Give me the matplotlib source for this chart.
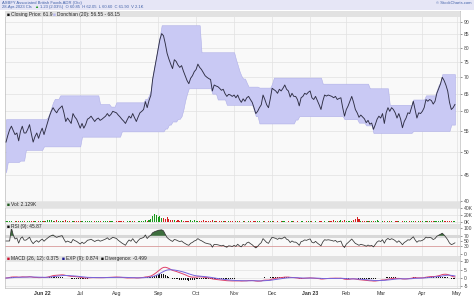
import numpy as np
import pandas as pd
import matplotlib
matplotlib.use("Agg")
import matplotlib.pyplot as plt
from matplotlib.patches import Rectangle

plt.rcParams["font.family"] = ["Liberation Sans", "DejaVu Sans"]

# ---------------- data ----------------
holidays = ["2022-05-30", "2022-06-20", "2022-07-04", "2022-09-05", "2022-11-24",
            "2022-12-26", "2023-01-02", "2023-01-16", "2023-02-20", "2023-04-07"]
start_date = "2022-05-03"

close = [
    52.2, 53.8, 55.2, 56.1, 55.0, 54.0, 54.4, 52.5, 54.8, 56.1,
    54.4, 54.4, 55.3, 56.5, 54.2, 52.2, 53.5, 54.4, 53.1, 54.5,
    55.6, 54.0, 55.5, 57.0, 58.7, 60.0, 61.0, 60.2, 59.6, 60.5,
    61.0, 61.5, 59.6, 57.3, 58.2, 57.5, 56.8, 59.4, 58.5, 57.9,
    56.8, 55.6, 56.8, 55.6, 56.5, 57.9, 58.2, 58.7, 58.0, 57.3,
    57.9, 58.2, 57.6, 57.9, 58.3, 58.7, 59.4, 58.7, 59.2, 60.0,
    59.8, 59.6, 59.0, 58.5, 57.9, 57.4, 56.8, 57.8, 58.7, 58.2,
    59.4, 58.3, 57.3, 58.5, 59.6, 60.0, 60.5, 62.7, 61.0, 63.0,
    64.5, 69.3, 72.5, 75.8, 79.5, 83.0, 85.3, 84.5, 81.5, 78.0,
    76.0, 74.3, 72.8, 75.8, 75.2, 74.0, 73.2, 73.8, 72.0, 70.5,
    69.0, 68.0, 69.7, 70.5, 71.8, 72.5, 74.3, 73.2, 72.5, 71.5,
    70.5, 70.0, 69.6, 69.3, 65.8, 67.6, 67.3, 67.1, 66.6, 66.0,
    66.3, 65.0, 64.2, 64.8, 64.6, 64.2, 64.6, 63.8, 64.6, 63.3,
    62.5, 63.5, 62.8, 63.8, 64.2, 63.3, 62.5, 61.0, 59.4, 60.0,
    61.0, 61.8, 64.6, 63.3, 61.8, 61.0, 63.5, 66.6, 66.2, 65.8,
    65.1, 66.3, 65.8, 66.6, 67.6, 66.3, 65.8, 64.0, 65.1, 64.2,
    64.2, 63.3, 61.5, 63.8, 64.2, 65.1, 64.8, 65.4, 65.8, 63.8,
    63.3, 64.2, 63.0, 61.8, 60.5, 62.8, 64.6, 64.3, 64.6, 64.4,
    64.2, 63.8, 64.2, 63.3, 63.6, 63.8, 61.0, 58.7, 60.5, 61.5,
    62.8, 64.2, 62.5, 60.5, 59.6, 58.4, 59.0, 58.5, 58.0, 57.0,
    57.6, 56.6, 56.9, 55.3, 56.5, 57.9, 58.7, 58.2, 59.4, 56.8,
    59.6, 61.0, 60.0, 61.0, 60.5, 59.6, 58.2, 59.4, 57.9, 55.7,
    57.3, 58.2, 59.6, 59.4, 61.0, 62.8, 60.5, 58.2, 59.6, 59.4,
    60.0, 61.0, 63.3, 62.8, 63.3, 63.0, 62.0, 62.8, 65.1, 66.5,
    67.9, 70.0, 69.0, 67.6, 65.8, 62.5, 60.5, 61.0, 61.9,
]

volume_k = [
    3, 2, 4, 2, 1, 3, 2, 4, 2, 3,
    2, 1, 3, 2, 4, 3, 2, 1, 2, 3,
    2, 3, 4, 6, 7, 5, 4, 3, 5, 2,
    3, 4, 3, 5, 2, 3, 1, 4, 2, 3,
    2, 3, 2, 1, 3, 2, 4, 2, 1, 3,
    2, 2, 3, 1, 2, 3, 2, 4, 2, 3,
    1, 2, 3, 2, 4, 2, 1, 3, 2, 2,
    3, 2, 1, 2, 3, 2, 4, 5, 3, 6,
    8, 16, 24, 20, 14, 18, 10, 12, 8, 13,
    9, 6, 7, 5, 4, 6, 3, 5, 4, 3,
    4, 2, 5, 3, 7, 2, 4, 3, 2, 5,
    3, 2, 4, 2, 6, 3, 2, 1, 3, 2,
    2, 3, 1, 2, 4, 2, 1, 3, 2, 2,
    1, 2, 3, 1, 2, 2, 1, 3, 2, 4,
    2, 1, 3, 2, 1, 2, 4, 3, 2, 1,
    2, 1, 2, 3, 2, 1, 2, 1, 3, 2,
    1, 2, 1, 2, 3, 1, 2, 4, 3, 2,
    1, 2, 1, 3, 2, 1, 2, 1, 2, 3,
    2, 5, 3, 4, 2, 5, 3, 6, 4, 3,
    4, 3, 6, 9, 15, 8, 4, 3, 2, 3,
    2, 3, 2, 4, 3, 7, 2, 1, 3, 2,
    1, 2, 3, 2, 1, 2, 3, 2, 1, 2,
    3, 2, 1, 2, 3, 4, 2, 1, 3, 2,
    2, 1, 3, 2, 4, 3, 4, 2, 3, 4,
    3, 5, 2, 3, 2, 4, 3, 2, 2.1,
]

# Donchian channel as (day index where the level starts, level)
donchian_upper = [(0, 57.9), (23, 58.3), (24, 59.5), (25, 61.0), (26, 62.5), (27, 63.5),
                  (30, 64.5), (52, 62.0), (58, 61.3), (61, 62.5), (77, 63.5), (79, 64.5),
                  (80, 66.0), (81, 70.5), (82, 73.8), (83, 77.0), (84, 81.0), (85, 84.5),
                  (86, 88.6), (108, 78.4), (127, 76.0), (128, 74.0), (129, 72.0),
                  (130, 70.5), (131, 69.6), (133, 68.3), (134, 67.1), (140, 66.8),
                  (147, 68.0), (148, 69.9), (175, 68.0), (201, 66.6), (212, 61.8),
                  (225, 63.3), (232, 64.5), (238, 66.0), (239, 67.6), (240, 68.5), (241, 71.0)]
donchian_lower = [(0, 45.5), (1, 47.7), (8, 48.0), (11, 50.4), (21, 51.2), (42, 53.5),
                  (64, 54.8), (88, 55.5), (90, 56.5), (92, 57.3), (95, 58.0), (97, 58.7),
                  (98, 60.5), (99, 63.0), (100, 65.0), (101, 66.6), (114, 65.0), (117, 63.3),
                  (122, 61.8), (137, 60.3), (138, 58.7), (140, 56.8), (160, 57.8), (162, 58.7),
                  (187, 57.9), (195, 57.0), (199, 56.3), (203, 54.4), (225, 54.9), (246, 56.5)]

price_ticks = [40, 45, 50, 55, 60, 65, 70, 75, 80, 85, 90]
vol_ticks = [0, 20, 40]
rsi_ticks = [0, 30, 50, 70, 100]
macd_ticks = [-5, 0, 5, 10]

header1 = "ASBFY Associated British Foods ADR (Otc)"
header2a = "28-Apr-2023 Cls"
header2b = "1.23 (2.03%)  O 60.85  H 62.05  L 60.60  C 61.90  V 2.1K"
legend_main = ["Closing Price: 61.9", "Donchian (20): 56.55 - 68.15"]
legend_vol = "Vol: 2.129K"
legend_rsi = "RSI (9): 45.87"
legend_macd = ["MACD (26, 12): 0.375", "EXP (9): 0.874", "Divergence: -0.499"]

# ---------------- derived ----------------
N = len(close)
c = np.array(close, dtype=float)
vol = np.array(volume_k, dtype=float)
idx = np.arange(N)
cal = pd.bdate_range(start_date, periods=N + 5, freq="C", holidays=holidays)


def steps_to_series(steps, n):
    out = np.empty(n)
    for k, (s0, v) in enumerate(steps):
        e = steps[k + 1][0] if k + 1 < len(steps) else n
        out[s0:e] = v
    return out


upper = steps_to_series(donchian_upper, N)
lower = steps_to_series(donchian_lower, N)

s = pd.Series(c)
d = s.diff().fillna(0)
n_rsi = 9
au = d.clip(lower=0).ewm(alpha=1 / n_rsi, adjust=False).mean()
ad = (-d).clip(lower=0).ewm(alpha=1 / n_rsi, adjust=False).mean()
rsi = (100 - 100 / (1 + au / ad.replace(0, 1e-9))).values
rsi[:3] = 50
macd = (s.ewm(span=12, adjust=False).mean() - s.ewm(span=26, adjust=False).mean()).values
sig = pd.Series(macd).ewm(span=9, adjust=False).mean().values
div = macd - sig

# month ticks
month_pos, month_lab, month_bold = [], [], []
prev = None
for i, dt in enumerate(cal):
    if i > 251:
        break
    if prev is not None and dt.month != prev.month:
        month_pos.append(i)
        if dt.month == 1 or len(month_pos) == 1:
            month_lab.append(dt.strftime("%b %y")); month_bold.append(True)
        else:
            month_lab.append(dt.strftime("%b")); month_bold.append(False)
    prev = dt

# ---------------- figure ----------------
W, H = 474, 296
fig = plt.figure(figsize=(W / 100, H / 100), dpi=100)
fig.patch.set_facecolor("white")


def rect(x0, y0, x1, y1):
    return [x0 / W, 1 - y1 / H, (x1 - x0) / W, (y1 - y0) / H]


def ftext(x, y, txt, **kw):
    kw.setdefault("fontsize", 3.5)
    kw.setdefault("va", "center")
    return fig.text(x / W, 1 - y / H, txt, **kw)


fig.patches.append(Rectangle((0, 1 - 9.5 / H), 1, 9.5 / H, transform=fig.transFigure,
                             facecolor="#e6e6f6", edgecolor="none", zorder=0))

axm = fig.add_axes(rect(5, 11, 460, 202))
axv = fig.add_axes(rect(5, 202, 460, 224), sharex=axm)
axr = fig.add_axes(rect(5, 224, 460, 256), sharex=axm)
axd = fig.add_axes(rect(5, 256, 460, 288), sharex=axm)
axes = [axm, axv, axr, axd]

GRID = "#e1e1e1"
for ax in axes:
    ax.set_facecolor("#f9f9f9")
    for sp in ax.spines.values():
        sp.set_color("#bdbdbd")
        sp.set_linewidth(0.5)
    for p in month_pos:
        ax.axvline(p, color=GRID, lw=0.5, zorder=0)
    ax.tick_params(axis="y", left=False, labelleft=False, right=True, labelright=True,
                   labelsize=3.6, length=1.5, width=0.4, pad=1, colors="#444444")
    ax.tick_params(axis="x", bottom=False, labelbottom=False, length=0)

# main panel
axm.set_yscale("log")
axm.fill_between(idx, lower, upper, color="#c9c9f4", edgecolor="#b0b0e8", lw=0.4, zorder=1)
axm.plot(idx, c, color="#2e2e44", lw=0.65, zorder=3)
axm.set_ylim(39.8, 94.5)
axm.set_yticks(price_ticks)
axm.set_yticklabels([str(t) for t in price_ticks])
axm.yaxis.set_minor_locator(matplotlib.ticker.NullLocator())
for t in price_ticks:
    axm.axhline(t, color=GRID, lw=0.5, zorder=0)
axm.set_xlim(-0.55, 250.8)

# volume panel
vcolors = ["#1a9a1a" if i == 0 or c[i] >= c[i - 1] else "#d42020" for i in range(N)]
axv.bar(idx, vol, width=0.6, color=vcolors, zorder=2)
axv.set_ylim(-5.7, 57)
axv.set_yticks(vol_ticks)
axv.set_yticklabels([f"{t}K" for t in vol_ticks])
for t in vol_ticks:
    axv.axhline(t, color=GRID, lw=0.5, zorder=0)

# RSI panel
axr.axhline(70, color="#d8d8d8", lw=2.2, zorder=1)
axr.axhline(30, color="#d89a9a", lw=0.6, zorder=1)
axr.fill_between(idx, 70, rsi, where=rsi > 70, interpolate=True, color="#3d6e3d", lw=0, zorder=2)
axr.fill_between(idx, 30, rsi, where=rsi < 30, interpolate=True, color="#8a4a4a", lw=0, zorder=2)
axr.plot(idx, rsi, color="#333333", lw=0.55, zorder=3)
axr.set_ylim(-7.7, 115.4)
axr.set_yticks(rsi_ticks)
axr.set_yticklabels([str(t) for t in rsi_ticks])

# MACD panel
axd.bar(idx, div, width=0.55, color="#111111", zorder=2)
axd.plot(idx, macd, color="#e0406a", lw=0.7, zorder=3)
axd.plot(idx, sig, color="#7565dc", lw=0.7, zorder=3)
axd.set_ylim(-6.0, 13.25)
axd.set_yticks(macd_ticks)
axd.set_yticklabels([str(t) for t in macd_ticks])
for t in macd_ticks:
    axd.axhline(t, color=GRID, lw=0.5, zorder=0)

axd.tick_params(axis="x", labelbottom=True, labelsize=3.8, pad=2, colors="#333333")
axd.set_xticks(month_pos)
axd.set_xticklabels(month_lab)
for lab, b in zip(axd.get_xticklabels(), month_bold):
    if b:
        lab.set_fontweight("bold")

# legend bands
for ax, hpx, tot in [(axm, 6, 191), (axv, 5.5, 22), (axr, 5, 32), (axd, 5, 32)]:
    ax.add_patch(Rectangle((0, 1 - hpx / tot), 1, hpx / tot, transform=ax.transAxes,
                           facecolor="#e2e2e2", edgecolor="none", zorder=4))

# legends
ftext(7, 14.5, "■", color="#111111")
ftext(11, 14.5, legend_main[0], color="#222222")
ftext(53, 14.5, "■", color="#b8b8ee")
ftext(57, 14.5, legend_main[1], color="#222222")
ftext(7, 205, "■", color="#1f5a1f")
ftext(11, 205, legend_vol, color="#222222")
ftext(7, 226.5, "■", color="#111111")
ftext(11, 226.5, legend_rsi, color="#222222")
ftext(7, 258.5, "■", color="#cc1030")
ftext(11, 258.5, legend_macd[0], color="#222222")
ftext(62, 258.5, "■", color="#1a1a90")
ftext(66, 258.5, legend_macd[1], color="#222222")
ftext(101, 258.5, "■", color="#111111")
ftext(105, 258.5, legend_macd[2], color="#222222")

# header (chain texts so they never collide)
ftext(2, 2.8, header1, color="#4060a8", fontsize=3.0)
renderer = fig.canvas.get_renderer()
t_a = ftext(2, 6.8, header2a, color="#4060a8", fontsize=3.0)
xa = t_a.get_window_extent(renderer).x1 + 2
t_tri = ftext(xa, 6.8, "▲", color="#1a9a1a", fontsize=3.0)
xb = t_tri.get_window_extent(renderer).x1 + 2
ftext(xb, 6.8, header2b, color="#4060a8", fontsize=3.0)
ftext(471, 3.2, "© StockCharts.com", color="#4060a8", fontsize=3.0, ha="right")

fig.savefig("out.png", dpi=100, facecolor="white")
